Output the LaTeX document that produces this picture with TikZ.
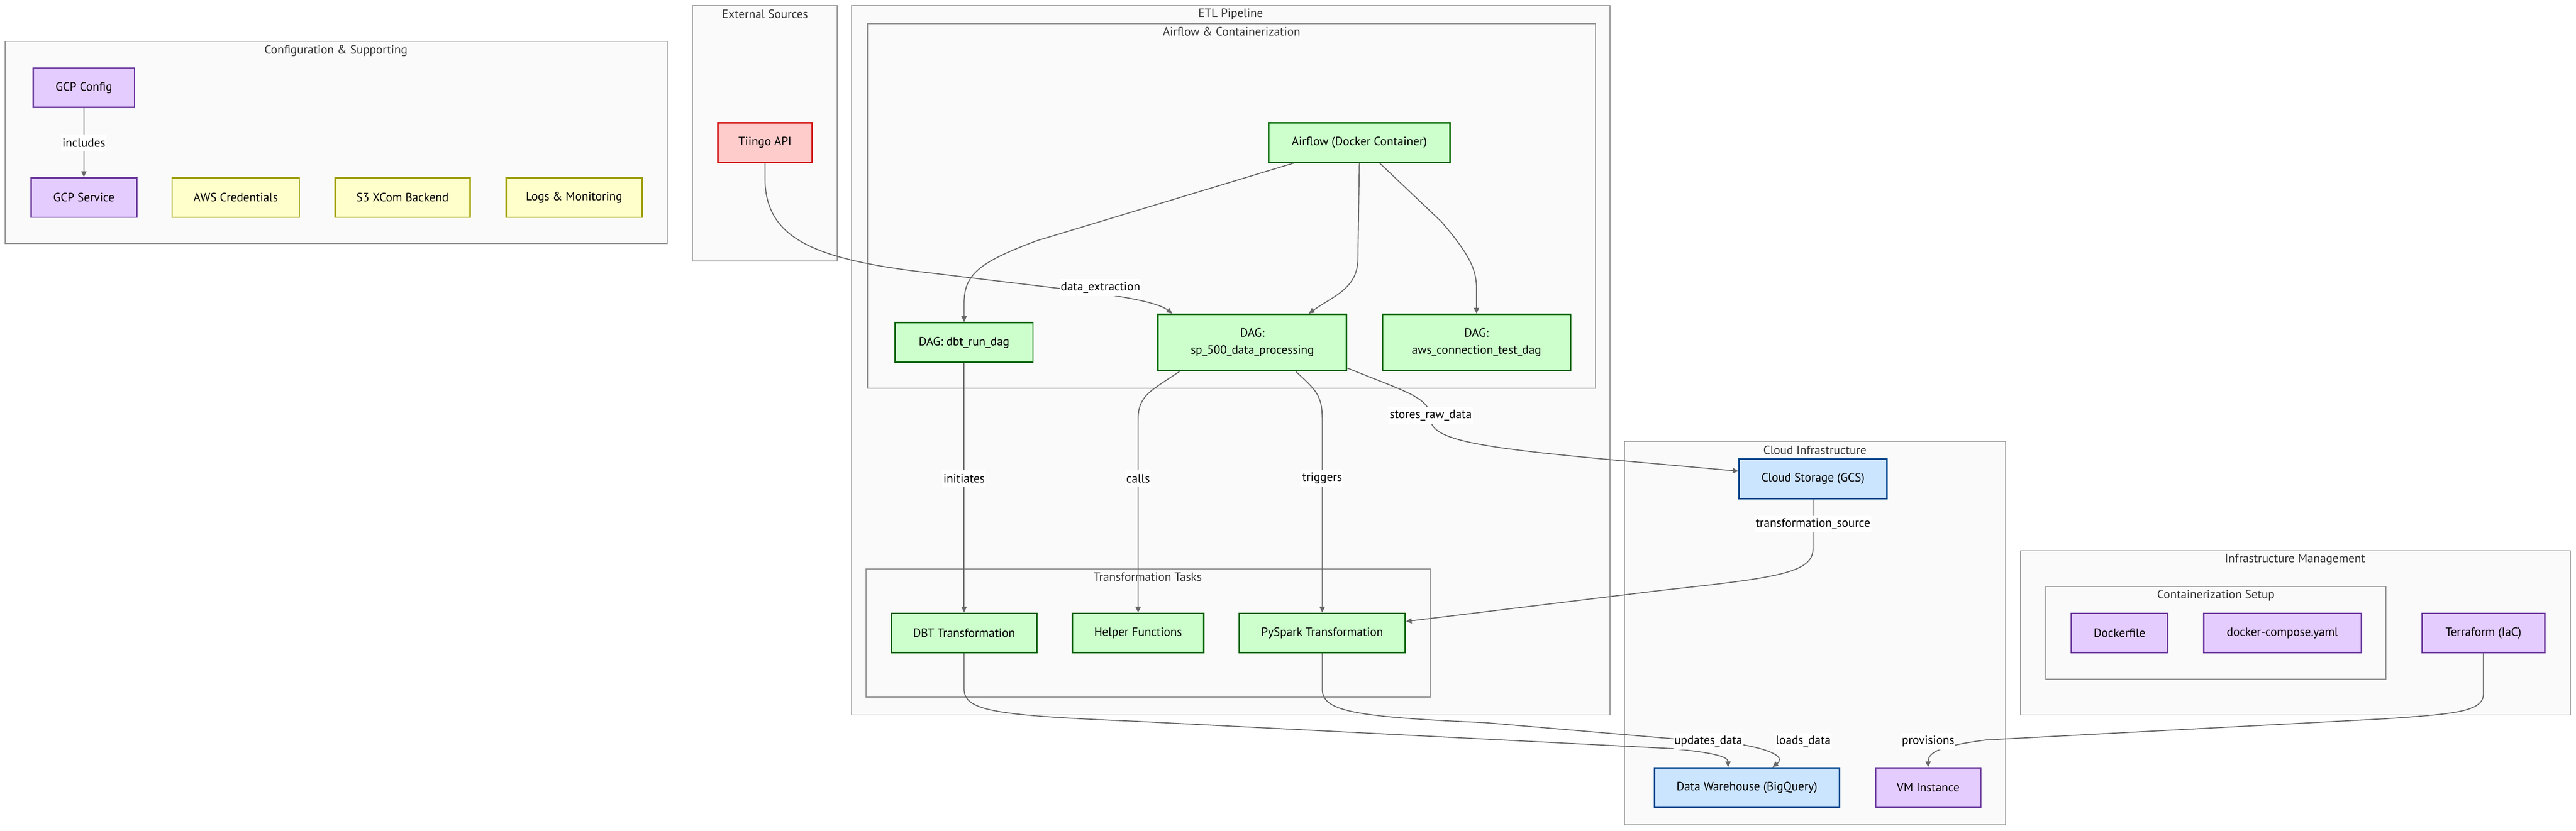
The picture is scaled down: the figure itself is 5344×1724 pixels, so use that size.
\documentclass[tikz,border=0pt]{standalone}
\usepackage{fontspec}
\setmainfont{PT Sans}
\usetikzlibrary{arrows.meta}
\definecolor{edgec}{HTML}{666666}
\definecolor{clline}{HTML}{929292}
\definecolor{clfill}{HTML}{FAFAFA}
\definecolor{cltitle}{HTML}{333333}
\definecolor{purpfill}{HTML}{E5CCFF}
\definecolor{purpline}{HTML}{6B3A9E}
\definecolor{yelfill}{HTML}{FFFFCC}
\definecolor{yelline}{HTML}{9E9E00}
\definecolor{redfill}{HTML}{FFCCCC}
\definecolor{redline}{HTML}{D00000}
\definecolor{grnfill}{HTML}{CCFFCC}
\definecolor{grnline}{HTML}{006400}
\definecolor{blufill}{HTML}{CCE5FF}
\definecolor{bluline}{HTML}{00458C}
\tikzset{
  box/.style={draw, line width=3pt, minimum height=82pt, inner sep=0pt, align=center, text=black},
  purp/.style={box, fill=purpfill, draw=purpline},
  yel/.style={box, fill=yelfill, draw=yelline},
  redb/.style={box, fill=redfill, draw=redline},
  grn/.style={box, fill=grnfill, draw=grnline},
  blu/.style={box, fill=blufill, draw=bluline},
  cluster/.style={draw=clline, fill=clfill, line width=2pt},
  ctitle/.style={text=cltitle, inner sep=0pt},
  lbl/.style={fill=white, inner xsep=2pt, inner ysep=0pt, minimum height=35pt, text=black},
  edge/.style={draw=edgec, line width=2pt, -{Triangle[length=12pt,width=11pt]}},
}
\begin{document}
\begin{tikzpicture}[x=1pt,y=-1pt, font=\fontsize{25}{35}\selectfont]
\useasboundingbox[fill=white] (0,0) rectangle (5344,1724);

% clusters
\draw[cluster] (11,86) rectangle (1384,506);
\node[ctitle] (tconfig) at (697,105) {Configuration \& Supporting};
\draw[cluster] (1437,12) rectangle (1737,542);
\node[ctitle] (text) at (1587,29) {External Sources};
\draw[cluster] (1767,12) rectangle (3340,1484);
\node[ctitle] (tetl) at (2553,29) {ETL Pipeline};
\draw[cluster] (1800,49) rectangle (3310,806);
\node[ctitle] (tair) at (2555,66) {Airflow \& Containerization};
\draw[cluster] (1797,1181) rectangle (2967,1447);
\node[ctitle] (ttrans) at (2381,1197) {Transformation Tasks};
\draw[cluster] (3370,916) rectangle (4161,1712);
\node[ctitle] (tcloud) at (3765,934) {Cloud Infrastructure};
\draw[cluster] (4192,1143) rectangle (5332,1484);
\node[ctitle] (tinfra) at (4761,1161) {Infrastructure Management};
\draw[cluster] (4244,1217) rectangle (4950,1410);
\node[ctitle] (tcont) at (4597,1236) {Containerization Setup};

% nodes
\node[purp, minimum width=210pt] (gcpconfig) at (174,182) {GCP Config};
\node[purp, minimum width=219pt] (gcpservice) at (174,410) {GCP Service};
\node[yel, minimum width=264pt] (aws) at (489,410) {AWS Credentials};
\node[yel, minimum width=280pt] (s3) at (835,410) {S3 XCom Backend};
\node[yel, minimum width=282pt] (logs) at (1191,410) {Logs \& Monitoring};

\node[redb, minimum width=196pt] (tiingo) at (1587,296) {Tiingo API};

\node[grn, minimum width=377pt] (airflow) at (2820,296) {Airflow (Docker Container)};
\node[grn, minimum width=286pt] (dbtdag) at (2000,711) {DAG: dbt\_run\_dag};
\node[grn, minimum width=391pt, minimum height=117pt] (spdag) at (2598,711) {DAG:\\sp\_500\_data\_processing};
\node[grn, minimum width=390pt, minimum height=117pt] (awsdag) at (3063,711) {DAG:\\aws\_connection\_test\_dag};

\node[grn, minimum width=301pt] (dbt) at (2000,1314) {DBT Transformation};
\node[grn, minimum width=272pt] (helper) at (2361,1314) {Helper Functions};
\node[grn, minimum width=344pt] (pyspark) at (2743,1314) {PySpark Transformation};

\node[blu, minimum width=306pt] (gcs) at (3761,994) {Cloud Storage (GCS)};
\node[blu, minimum width=384pt] (dw) at (3624,1635) {Data Warehouse (BigQuery)};
\node[purp, minimum width=219pt] (vm) at (4000,1635) {VM Instance};

\node[purp, minimum width=200pt] (dockerfile) at (4397,1314) {Dockerfile};
\node[purp, minimum width=327pt] (compose) at (4735,1314) {docker-compose.yaml};
\node[purp, minimum width=255pt] (terraform) at (5152,1314) {Terraform (IaC)};

% edges
\draw[edge] (gcpconfig) -- (gcpservice);
\draw[edge] (tiingo.south) -- (1587,370) .. controls (1587,490) and (1680,535) .. (1900,563)
  -- (2250,605) .. controls (2350,618) and (2405,630) .. ([xshift=-166pt]spdag.north);
\draw[edge] ([xshift=-136pt]airflow.south) -- (2150,500) .. controls (2030,545) and (2000,570) .. (2000,630) -- (dbtdag.north);
\draw[edge] (airflow.south) -- (2817,540) .. controls (2815,600) and (2765,615) .. ([xshift=117pt]spdag.north);
\draw[edge] ([xshift=42pt]airflow.south) -- (2990,460) .. controls (3050,530) and (3063,560) .. (3063,600) -- (awsdag.north);
\draw[edge] (dbtdag) -- (dbt);
\draw[edge] ([xshift=-151pt]spdag.south) .. controls (2390,810) and (2361,820) .. (2361,870) -- (helper.north);
\draw[edge] ([xshift=90pt]spdag.south) .. controls (2730,810) and (2743,820) .. (2743,870) -- (pyspark.north);
\draw[edge] ([yshift=7pt]spdag.south east) .. controls (2920,815) and (2968,825) .. (2968,870)
  .. controls (2968,915) and (3080,930) .. (3350,955) -- ([yshift=16pt]gcs.west);
\draw[edge] (gcs.south) -- (3761,1140) .. controls (3761,1190) and (3680,1200) .. (3450,1225) -- ([yshift=24pt]pyspark.east);
\draw[edge] (dbt.south) -- (2000,1430) .. controls (2000,1475) and (2060,1485) .. (2350,1497)
  -- (3470,1554) .. controls (3550,1562) and (3585,1570) .. ([xshift=-39pt]dw.north);
\draw[edge] (pyspark.south) -- (2743,1430) .. controls (2743,1475) and (2800,1488) .. (3080,1500)
  -- (3616,1546) .. controls (3690,1560) and (3700,1575) .. ([xshift=53pt]dw.north);
\draw[edge] (terraform.south) -- (5152,1440) .. controls (5152,1478) and (5090,1482) .. (4950,1492)
  -- (4120,1536) .. controls (4030,1548) and (4000,1560) .. (vm.north);

% edge labels
\node[lbl] (lincl) at (174,296) {includes};
\node[lbl] (lextr) at (2283,597) {data\_extraction};
\node[lbl] (linit) at (2000,993) {initiates};
\node[lbl] (lcalls) at (2361,993) {calls};
\node[lbl] (ltrig) at (2743,993) {triggers};
\node[lbl] (lstore) at (2968,862) {stores\_raw\_data};
\node[lbl] (lsrc) at (3761,1088) {transformation\_source};
\node[lbl] (lupd) at (3544,1539) {updates\_data};
\node[lbl] (lload) at (3741,1539) {loads\_data};
\node[lbl] (lprov) at (4000,1539) {provisions};
\end{tikzpicture}
\end{document}
